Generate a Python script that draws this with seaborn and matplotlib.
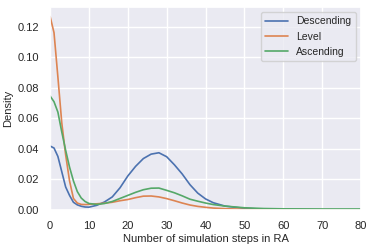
import numpy as np
import pandas as pd
import matplotlib
matplotlib.use("Agg")
import matplotlib.pyplot as plt
import seaborn as sns

steps = [0, 1, 2, 3, 4, 5, 6, 7, 8, 9, 10, 12, 14, 16, 18, 20, 22, 24, 26, 28,
         30, 32, 34, 36, 38, 40, 42, 45, 50, 55, 60, 70, 80]

descending = [0.0418, 0.0405, 0.0350, 0.0250, 0.0150, 0.0095, 0.0050, 0.0033,
              0.0024, 0.0019, 0.0018, 0.0030, 0.0052, 0.0085, 0.0145, 0.0222,
              0.0285, 0.0336, 0.0365, 0.0374, 0.0348, 0.0295, 0.0235, 0.0165,
              0.0110, 0.0072, 0.0047, 0.0025, 0.0010, 0.0005, 0.0003, 0.0001,
              0.0001]

level = [0.1265, 0.1160, 0.0870, 0.0570, 0.0360, 0.0190, 0.0075, 0.0045,
         0.0036, 0.0035, 0.0036, 0.0040, 0.0044, 0.0050, 0.0060, 0.0068,
         0.0080, 0.0090, 0.0091, 0.0085, 0.0074, 0.0060, 0.0045, 0.0032,
         0.0023, 0.0017, 0.0012, 0.0008, 0.0004, 0.0002, 0.0001, 0.0001,
         0.0000]

ascending = [0.0745, 0.0708, 0.0640, 0.0510, 0.0390, 0.0280, 0.0190, 0.0120,
             0.0078, 0.0055, 0.0042, 0.0036, 0.0042, 0.0055, 0.0075, 0.0095,
             0.0115, 0.0132, 0.0142, 0.0143, 0.0128, 0.0112, 0.0092, 0.0070,
             0.0057, 0.0045, 0.0035, 0.0025, 0.0014, 0.0009, 0.0007, 0.0006,
             0.0006]

series_names = ["Descending", "Level", "Ascending"]

df = pd.DataFrame({
    "x": steps * 3,
    "y": descending + level + ascending,
    "kind": sum([[n] * len(steps) for n in series_names], []),
})

sns.set_theme(style="darkgrid")
plt.rcParams["font.family"] = ["Liberation Sans", "DejaVu Sans"]
plt.rcParams.update({
    "xtick.labelsize": 8,
    "ytick.labelsize": 8,
    "axes.labelsize": 8,
    "legend.fontsize": 7.5,
})

fig = plt.figure(figsize=(3.74, 2.49), dpi=100)
ax = fig.add_axes([0.134, 0.157, 0.831, 0.815])
sns.lineplot(data=df, x="x", y="y", hue="kind", hue_order=series_names,
             ax=ax, linewidth=1.2)
ax.set_xlim(0, 80)
ax.set_ylim(0, 0.1328)
ax.set_xticks(range(0, 81, 10))
ax.set_yticks(np.arange(0, 0.121, 0.02))
ax.set_yticklabels([f"{v:.2f}" for v in np.arange(0, 0.121, 0.02)])
ax.set_xlabel("Number of simulation steps in RA", labelpad=2)
ax.set_ylabel("Density", labelpad=3)
ax.tick_params(pad=2)
ax.legend(title=None, loc="upper right", handlelength=2.2)
fig.savefig("out.png", dpi=100)
